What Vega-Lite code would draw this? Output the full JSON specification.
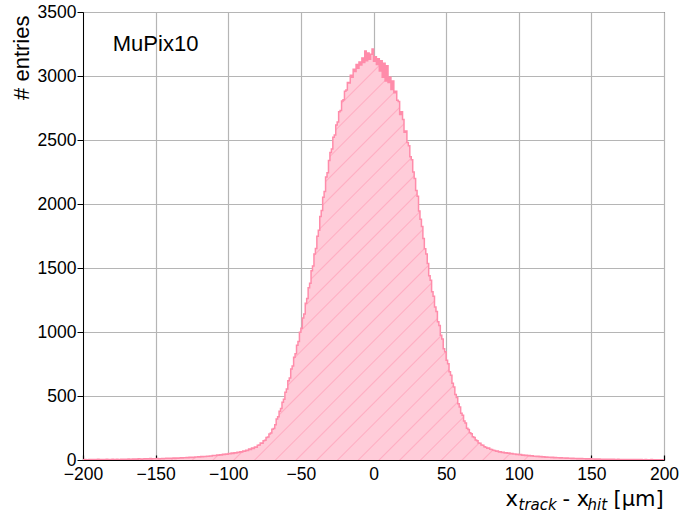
{
  "$schema": "https://vega.github.io/schema/vega-lite/v6.json",
  "width": 581,
  "height": 448,
  "autosize": "none",
  "padding": {"left": 83, "top": 12, "right": 17, "bottom": 53},
  "background": "white",
  "config": {
    "view": {"stroke": "black", "strokeWidth": 1},
    "axis": {"domainColor": "black", "tickColor": "black", "labelColor": "black", "titleColor": "black"}
  },
  "resolve": {"axis": {"x": "independent"}},
  "layer": [
    {
      "data": {"values": [
{"x":-200,"n":2},{"x":-199,"n":3},{"x":-198,"n":1},{"x":-197,"n":2},{"x":-196,"n":4},{"x":-195,"n":2},{"x":-194,"n":3},{"x":-193,"n":1},{"x":-192,"n":3},{"x":-191,"n":2},{"x":-190,"n":5},{"x":-189,"n":3},{"x":-188,"n":2},{"x":-187,"n":4},{"x":-186,"n":3},{"x":-185,"n":2},{"x":-184,"n":5},{"x":-183,"n":3},{"x":-182,"n":4},{"x":-181,"n":2},{"x":-180,"n":5},{"x":-179,"n":3},{"x":-178,"n":4},{"x":-177,"n":6},{"x":-176,"n":3},
{"x":-175,"n":4},{"x":-174,"n":6},{"x":-173,"n":5},{"x":-172,"n":3},{"x":-171,"n":6},{"x":-170,"n":5},{"x":-169,"n":7},{"x":-168,"n":4},{"x":-167,"n":6},{"x":-166,"n":8},{"x":-165,"n":5},{"x":-164,"n":7},{"x":-163,"n":6},{"x":-162,"n":9},{"x":-161,"n":7},{"x":-160,"n":6},{"x":-159,"n":8},{"x":-158,"n":10},{"x":-157,"n":7},{"x":-156,"n":9},{"x":-155,"n":8},{"x":-154,"n":11},{"x":-153,"n":8},{"x":-152,"n":10},{"x":-151,"n":9},
{"x":-150,"n":9},{"x":-149,"n":11},{"x":-148,"n":8},{"x":-147,"n":10},{"x":-146,"n":12},{"x":-145,"n":10},{"x":-144,"n":11},{"x":-143,"n":13},{"x":-142,"n":11},{"x":-141,"n":14},{"x":-140,"n":12},{"x":-139,"n":13},{"x":-138,"n":15},{"x":-137,"n":12},{"x":-136,"n":16},{"x":-135,"n":14},{"x":-134,"n":15},{"x":-133,"n":17},{"x":-132,"n":15},{"x":-131,"n":18},{"x":-130,"n":18},{"x":-129,"n":19},{"x":-128,"n":17},{"x":-127,"n":21},{"x":-126,"n":19},
{"x":-125,"n":22},{"x":-124,"n":20},{"x":-123,"n":24},{"x":-122,"n":23},{"x":-121,"n":25},{"x":-120,"n":24},{"x":-119,"n":27},{"x":-118,"n":26},{"x":-117,"n":28},{"x":-116,"n":27},{"x":-115,"n":30},{"x":-114,"n":29},{"x":-113,"n":32},{"x":-112,"n":31},{"x":-111,"n":35},
{"x":-110,"n":36},{"x":-109,"n":35},{"x":-108,"n":39},{"x":-107,"n":38},{"x":-106,"n":41},{"x":-105,"n":40},{"x":-104,"n":44},{"x":-103,"n":42},
{"x":-102,"n":47},{"x":-101,"n":44},{"x":-100,"n":50},{"x":-99,"n":49},{"x":-98,"n":55},{"x":-97,"n":51},{"x":-96,"n":57},{"x":-95,"n":54},{"x":-94,"n":60},{"x":-93,"n":58},
{"x":-92,"n":64},{"x":-91,"n":62},{"x":-90,"n":70},{"x":-89,"n":68},{"x":-88,"n":76},
{"x":-87,"n":74},{"x":-86,"n":85},{"x":-85,"n":83},{"x":-84,"n":93},{"x":-83,"n":90},{"x":-82,"n":101},
{"x":-81,"n":99},{"x":-80,"n":115},{"x":-79,"n":118},{"x":-78,"n":133},{"x":-77,"n":131},
{"x":-76,"n":150},{"x":-75,"n":155},{"x":-74,"n":176},{"x":-73,"n":180},
{"x":-72,"n":204},{"x":-71,"n":210},{"x":-70,"n":241},{"x":-69,"n":247},
{"x":-68,"n":276},{"x":-67,"n":321},{"x":-66,"n":338},{"x":-65,"n":380},
{"x":-64,"n":402},{"x":-63,"n":452},{"x":-62,"n":474},
{"x":-61,"n":530},{"x":-60,"n":555},{"x":-59,"n":619},{"x":-58,"n":641},{"x":-57,"n":710},
{"x":-56,"n":735},{"x":-55,"n":802},{"x":-54,"n":830},
{"x":-53,"n":897},{"x":-52,"n":926},{"x":-51,"n":998},
{"x":-50,"n":1030},{"x":-49,"n":1110},{"x":-48,"n":1140},
{"x":-47,"n":1225},{"x":-46,"n":1262},{"x":-45,"n":1345},
{"x":-44,"n":1380},{"x":-43,"n":1478},
{"x":-42,"n":1515},{"x":-41,"n":1610},{"x":-40,"n":1652},
{"x":-39,"n":1748},{"x":-38,"n":1795},{"x":-37,"n":1902},
{"x":-36,"n":1950},{"x":-35,"n":2052},{"x":-34,"n":2098},
{"x":-33,"n":2210},{"x":-32,"n":2245},{"x":-31,"n":2340},
{"x":-30,"n":2402},{"x":-29,"n":2430},{"x":-28,"n":2522},
{"x":-27,"n":2540},{"x":-26,"n":2618},{"x":-25,"n":2640},{"x":-24,"n":2720},
{"x":-23,"n":2730},{"x":-22,"n":2805},{"x":-21,"n":2815},
{"x":-20,"n":2880},{"x":-19,"n":2890},{"x":-18,"n":2950},{"x":-17,"n":2945},
{"x":-16,"n":3005},{"x":-15,"n":2990},{"x":-14,"n":3052},{"x":-13,"n":3035},
{"x":-12,"n":3090},{"x":-11,"n":3060},{"x":-10,"n":3110},{"x":-9,"n":3085},{"x":-8,"n":3140},
{"x":-7,"n":3105},{"x":-6,"n":3195},{"x":-5,"n":3120},{"x":-4,"n":3180},{"x":-3,"n":3130},
{"x":-2,"n":3170},{"x":-1,"n":3210},{"x":0,"n":3115},{"x":1,"n":3150},{"x":2,"n":3090},{"x":3,"n":3135},{"x":4,"n":3040},{"x":5,"n":3120},{"x":6,"n":2990},{"x":7,"n":3100},{"x":8,"n":2960},{"x":9,"n":3080},
{"x":10,"n":2950},{"x":11,"n":2990},{"x":12,"n":2895},{"x":13,"n":2960},{"x":14,"n":2870},{"x":15,"n":2880},{"x":16,"n":2810},{"x":17,"n":2800},{"x":18,"n":2700},{"x":19,"n":2720},
{"x":20,"n":2660},{"x":21,"n":2560},{"x":22,"n":2570},{"x":23,"n":2480},{"x":24,"n":2455},{"x":25,"n":2370},{"x":26,"n":2345},{"x":27,"n":2250},{"x":28,"n":2200},{"x":29,"n":2105},
{"x":30,"n":2060},{"x":31,"n":1945},{"x":32,"n":1880},{"x":33,"n":1825},{"x":34,"n":1730},{"x":35,"n":1650},{"x":36,"n":1610},{"x":37,"n":1535},{"x":38,"n":1440},{"x":39,"n":1405},
{"x":40,"n":1315},{"x":41,"n":1280},{"x":42,"n":1195},{"x":43,"n":1160},{"x":44,"n":1080},{"x":45,"n":1050},{"x":46,"n":975},{"x":47,"n":945},{"x":48,"n":870},{"x":49,"n":845},
{"x":50,"n":780},{"x":51,"n":752},{"x":52,"n":690},{"x":53,"n":662},{"x":54,"n":600},{"x":55,"n":570},{"x":56,"n":512},{"x":57,"n":488},{"x":58,"n":440},{"x":59,"n":415},
{"x":60,"n":366},{"x":61,"n":350},{"x":62,"n":305},{"x":63,"n":290},{"x":64,"n":248},{"x":65,"n":238},{"x":66,"n":212},{"x":67,"n":205},{"x":68,"n":182},{"x":69,"n":176},
{"x":70,"n":156},{"x":71,"n":150},{"x":72,"n":133},{"x":73,"n":131},{"x":74,"n":118},{"x":75,"n":116},{"x":76,"n":103},{"x":77,"n":100},{"x":78,"n":92},{"x":79,"n":94},
{"x":80,"n":84},{"x":81,"n":83},{"x":82,"n":76},{"x":83,"n":75},{"x":84,"n":68},{"x":85,"n":70},{"x":86,"n":63},{"x":87,"n":64},{"x":88,"n":58},{"x":89,"n":60},
{"x":90,"n":55},{"x":91,"n":57},{"x":92,"n":52},{"x":93,"n":54},{"x":94,"n":48},{"x":95,"n":50},{"x":96,"n":46},{"x":97,"n":47},{"x":98,"n":43},{"x":99,"n":45},
{"x":100,"n":41},{"x":101,"n":42},{"x":102,"n":38},{"x":103,"n":40},{"x":104,"n":36},{"x":105,"n":37},{"x":106,"n":33},{"x":107,"n":35},{"x":108,"n":31},{"x":109,"n":33},
{"x":110,"n":29},{"x":111,"n":30},{"x":112,"n":27},{"x":113,"n":29},{"x":114,"n":26},{"x":115,"n":27},{"x":116,"n":24},{"x":117,"n":26},{"x":118,"n":22},{"x":119,"n":24},
{"x":120,"n":21},{"x":121,"n":22},{"x":122,"n":19},{"x":123,"n":21},{"x":124,"n":18},{"x":125,"n":19},
{"x":126,"n":17},{"x":127,"n":18},{"x":128,"n":16},{"x":129,"n":17},{"x":130,"n":15},{"x":131,"n":16},{"x":132,"n":14},{"x":133,"n":15},{"x":134,"n":13},{"x":135,"n":14},{"x":136,"n":12},{"x":137,"n":13},{"x":138,"n":11},{"x":139,"n":12},{"x":140,"n":10},{"x":141,"n":11},{"x":142,"n":9},{"x":143,"n":11},{"x":144,"n":9},{"x":145,"n":10},{"x":146,"n":8},{"x":147,"n":9},{"x":148,"n":8},{"x":149,"n":9},{"x":150,"n":7},
{"x":151,"n":8},{"x":152,"n":6},{"x":153,"n":7},{"x":154,"n":5},{"x":155,"n":7},{"x":156,"n":6},{"x":157,"n":5},{"x":158,"n":6},{"x":159,"n":4},{"x":160,"n":6},{"x":161,"n":5},{"x":162,"n":4},{"x":163,"n":5},{"x":164,"n":3},{"x":165,"n":5},{"x":166,"n":4},{"x":167,"n":3},{"x":168,"n":5},{"x":169,"n":4},{"x":170,"n":3},{"x":171,"n":4},{"x":172,"n":2},{"x":173,"n":4},{"x":174,"n":3},{"x":175,"n":3},
{"x":176,"n":2},{"x":177,"n":4},{"x":178,"n":3},{"x":179,"n":2},{"x":180,"n":3},{"x":181,"n":1},{"x":182,"n":3},{"x":183,"n":2},{"x":184,"n":3},{"x":185,"n":2},{"x":186,"n":1},{"x":187,"n":3},{"x":188,"n":2},{"x":189,"n":2},{"x":190,"n":1},{"x":191,"n":3},{"x":192,"n":2},{"x":193,"n":1},{"x":194,"n":2},{"x":195,"n":1},{"x":196,"n":2},{"x":197,"n":1},{"x":198,"n":2},{"x":199,"n":1},{"x":200,"n":1}
      ]},
      "mark": {"type": "area", "interpolate": "step-after", "opacity": 1, "fillOpacity": 1, "clip": true,
        "fill": {"gradient": "linear", "x1": 0, "y1": 0, "x2": 1, "y2": 0.707, "stops": [
          {"offset": 0.0000, "color": "#ffccd9"}, {"offset": 0.0017, "color": "#ffadc2"}, {"offset": 0.0034, "color": "#ffccd9"},
          {"offset": 0.0238, "color": "#ffccd9"}, {"offset": 0.0255, "color": "#ffadc2"}, {"offset": 0.0272, "color": "#ffccd9"},
          {"offset": 0.0476, "color": "#ffccd9"}, {"offset": 0.0493, "color": "#ffadc2"}, {"offset": 0.0510, "color": "#ffccd9"},
          {"offset": 0.0714, "color": "#ffccd9"}, {"offset": 0.0731, "color": "#ffadc2"}, {"offset": 0.0748, "color": "#ffccd9"},
          {"offset": 0.0952, "color": "#ffccd9"}, {"offset": 0.0969, "color": "#ffadc2"}, {"offset": 0.0986, "color": "#ffccd9"},
          {"offset": 0.1190, "color": "#ffccd9"}, {"offset": 0.1207, "color": "#ffadc2"}, {"offset": 0.1224, "color": "#ffccd9"},
          {"offset": 0.1429, "color": "#ffccd9"}, {"offset": 0.1446, "color": "#ffadc2"}, {"offset": 0.1463, "color": "#ffccd9"},
          {"offset": 0.1667, "color": "#ffccd9"}, {"offset": 0.1684, "color": "#ffadc2"}, {"offset": 0.1701, "color": "#ffccd9"},
          {"offset": 0.1905, "color": "#ffccd9"}, {"offset": 0.1922, "color": "#ffadc2"}, {"offset": 0.1939, "color": "#ffccd9"},
          {"offset": 0.2143, "color": "#ffccd9"}, {"offset": 0.2160, "color": "#ffadc2"}, {"offset": 0.2177, "color": "#ffccd9"},
          {"offset": 0.2381, "color": "#ffccd9"}, {"offset": 0.2398, "color": "#ffadc2"}, {"offset": 0.2415, "color": "#ffccd9"},
          {"offset": 0.2619, "color": "#ffccd9"}, {"offset": 0.2636, "color": "#ffadc2"}, {"offset": 0.2653, "color": "#ffccd9"},
          {"offset": 0.2857, "color": "#ffccd9"}, {"offset": 0.2874, "color": "#ffadc2"}, {"offset": 0.2891, "color": "#ffccd9"},
          {"offset": 0.3095, "color": "#ffccd9"}, {"offset": 0.3112, "color": "#ffadc2"}, {"offset": 0.3129, "color": "#ffccd9"},
          {"offset": 0.3333, "color": "#ffccd9"}, {"offset": 0.3350, "color": "#ffadc2"}, {"offset": 0.3367, "color": "#ffccd9"},
          {"offset": 0.3571, "color": "#ffccd9"}, {"offset": 0.3588, "color": "#ffadc2"}, {"offset": 0.3605, "color": "#ffccd9"},
          {"offset": 0.3810, "color": "#ffccd9"}, {"offset": 0.3827, "color": "#ffadc2"}, {"offset": 0.3844, "color": "#ffccd9"},
          {"offset": 0.4048, "color": "#ffccd9"}, {"offset": 0.4065, "color": "#ffadc2"}, {"offset": 0.4082, "color": "#ffccd9"},
          {"offset": 0.4286, "color": "#ffccd9"}, {"offset": 0.4303, "color": "#ffadc2"}, {"offset": 0.4320, "color": "#ffccd9"},
          {"offset": 0.4524, "color": "#ffccd9"}, {"offset": 0.4541, "color": "#ffadc2"}, {"offset": 0.4558, "color": "#ffccd9"},
          {"offset": 0.4762, "color": "#ffccd9"}, {"offset": 0.4779, "color": "#ffadc2"}, {"offset": 0.4796, "color": "#ffccd9"},
          {"offset": 0.5000, "color": "#ffccd9"}, {"offset": 0.5017, "color": "#ffadc2"}, {"offset": 0.5034, "color": "#ffccd9"},
          {"offset": 0.5238, "color": "#ffccd9"}, {"offset": 0.5255, "color": "#ffadc2"}, {"offset": 0.5272, "color": "#ffccd9"},
          {"offset": 0.5476, "color": "#ffccd9"}, {"offset": 0.5493, "color": "#ffadc2"}, {"offset": 0.5510, "color": "#ffccd9"},
          {"offset": 0.5714, "color": "#ffccd9"}, {"offset": 0.5731, "color": "#ffadc2"}, {"offset": 0.5748, "color": "#ffccd9"},
          {"offset": 0.5952, "color": "#ffccd9"}, {"offset": 0.5969, "color": "#ffadc2"}, {"offset": 0.5986, "color": "#ffccd9"},
          {"offset": 0.6190, "color": "#ffccd9"}, {"offset": 0.6207, "color": "#ffadc2"}, {"offset": 0.6224, "color": "#ffccd9"},
          {"offset": 0.6429, "color": "#ffccd9"}, {"offset": 0.6446, "color": "#ffadc2"}, {"offset": 0.6463, "color": "#ffccd9"},
          {"offset": 0.6667, "color": "#ffccd9"}, {"offset": 0.6684, "color": "#ffadc2"}, {"offset": 0.6701, "color": "#ffccd9"},
          {"offset": 0.6905, "color": "#ffccd9"}, {"offset": 0.6922, "color": "#ffadc2"}, {"offset": 0.6939, "color": "#ffccd9"},
          {"offset": 0.7143, "color": "#ffccd9"}, {"offset": 0.7160, "color": "#ffadc2"}, {"offset": 0.7177, "color": "#ffccd9"},
          {"offset": 0.7381, "color": "#ffccd9"}, {"offset": 0.7398, "color": "#ffadc2"}, {"offset": 0.7415, "color": "#ffccd9"},
          {"offset": 0.7619, "color": "#ffccd9"}, {"offset": 0.7636, "color": "#ffadc2"}, {"offset": 0.7653, "color": "#ffccd9"},
          {"offset": 0.7857, "color": "#ffccd9"}, {"offset": 0.7874, "color": "#ffadc2"}, {"offset": 0.7891, "color": "#ffccd9"},
          {"offset": 0.8095, "color": "#ffccd9"}, {"offset": 0.8112, "color": "#ffadc2"}, {"offset": 0.8129, "color": "#ffccd9"},
          {"offset": 0.8333, "color": "#ffccd9"}, {"offset": 0.8350, "color": "#ffadc2"}, {"offset": 0.8367, "color": "#ffccd9"},
          {"offset": 0.8571, "color": "#ffccd9"}, {"offset": 0.8588, "color": "#ffadc2"}, {"offset": 0.8605, "color": "#ffccd9"},
          {"offset": 0.8810, "color": "#ffccd9"}, {"offset": 0.8827, "color": "#ffadc2"}, {"offset": 0.8844, "color": "#ffccd9"},
          {"offset": 0.9048, "color": "#ffccd9"}, {"offset": 0.9065, "color": "#ffadc2"}, {"offset": 0.9082, "color": "#ffccd9"},
          {"offset": 0.9286, "color": "#ffccd9"}, {"offset": 0.9303, "color": "#ffadc2"}, {"offset": 0.9320, "color": "#ffccd9"},
          {"offset": 0.9524, "color": "#ffccd9"}, {"offset": 0.9541, "color": "#ffadc2"}, {"offset": 0.9558, "color": "#ffccd9"},
          {"offset": 0.9762, "color": "#ffccd9"}, {"offset": 0.9779, "color": "#ffadc2"}, {"offset": 0.9796, "color": "#ffccd9"},
          {"offset": 1.0000, "color": "#ffccd9"}
        ]},
        "line": {"color": "#ff8caa", "strokeWidth": 1.5}},
      "encoding": {
        "x": {"field": "x", "type": "quantitative", "scale": {"domain": [-200, 200], "nice": false, "zero": false},
          "axis": {"orient": "bottom", "values": [-200, -150, -100, -50, 0, 50, 100, 150, 200], "labelFlush": false, "grid": true, "gridColor": "#b5b5b5", "gridWidth": 1.2, "tickSize": -5, "tickWidth": 1.2, "labelPadding": 10, "labelFont": "Liberation Sans", "labelFontSize": 17.5,
            "title": "x", "titleX": 422, "titleY": 45, "titleAlign": "left", "titleBaseline": "alphabetic", "titleFont": "DejaVu Sans", "titleFontSize": 21, "titleFontWeight": "normal"}},
        "y": {"field": "n", "type": "quantitative", "scale": {"domain": [0, 3500], "nice": false},
          "axis": {"values": [0, 500, 1000, 1500, 2000, 2500, 3000, 3500], "format": "d", "labelFlush": false, "grid": true, "gridColor": "#b5b5b5", "gridWidth": 1.2, "tickSize": 6, "labelPadding": 1, "labelFont": "Liberation Sans", "labelFontSize": 17.5,
            "title": "# entries", "titleX": -55, "titleY": 3, "titleAngle": -90, "titleAlign": "right", "titleBaseline": "alphabetic", "titleFont": "Liberation Sans", "titleFontSize": 22, "titleFontWeight": "normal"}}
      }
    },
    {
      "data": {"values": [{"label": "MuPix10"}]},
      "mark": {"type": "text", "align": "left", "baseline": "alphabetic", "font": "Liberation Sans", "fontSize": 22, "color": "black"},
      "encoding": {
        "x": {"datum": -179.5, "type": "quantitative", "axis": null},
        "y": {"datum": 3195, "type": "quantitative"},
        "text": {"field": "label"}
      }
    },
    {
      "data": {"values": [{"x": 0}]},
      "mark": {"type": "rule", "opacity": 0},
      "encoding": {"x": {"field": "x", "type": "quantitative", "axis": {"orient": "bottom", "grid": false, "domain": false, "ticks": false, "labels": false,
        "title": "track", "titleX": 435, "titleY": 49, "titleAlign": "left", "titleBaseline": "alphabetic", "titleFont": "DejaVu Sans", "titleFontStyle": "italic", "titleFontSize": 15, "titleFontWeight": "normal"}}}
    },
    {
      "data": {"values": [{"x": 0}]},
      "mark": {"type": "rule", "opacity": 0},
      "encoding": {"x": {"field": "x", "type": "quantitative", "axis": {"orient": "bottom", "grid": false, "domain": false, "ticks": false, "labels": false,
        "title": "- x", "titleX": 479, "titleY": 45, "titleAlign": "left", "titleBaseline": "alphabetic", "titleFont": "DejaVu Sans", "titleFontSize": 21, "titleFontWeight": "normal"}}}
    },
    {
      "data": {"values": [{"x": 0}]},
      "mark": {"type": "rule", "opacity": 0},
      "encoding": {"x": {"field": "x", "type": "quantitative", "axis": {"orient": "bottom", "grid": false, "domain": false, "ticks": false, "labels": false,
        "title": "hit", "titleX": 504, "titleY": 49, "titleAlign": "left", "titleBaseline": "alphabetic", "titleFont": "DejaVu Sans", "titleFontStyle": "italic", "titleFontSize": 15, "titleFontWeight": "normal"}}}
    },
    {
      "data": {"values": [{"x": 0}]},
      "mark": {"type": "rule", "opacity": 0},
      "encoding": {"x": {"field": "x", "type": "quantitative", "axis": {"orient": "bottom", "grid": false, "domain": false, "ticks": false, "labels": false,
        "title": "[μm]", "titleX": 530, "titleY": 45, "titleAlign": "left", "titleBaseline": "alphabetic", "titleFont": "DejaVu Sans", "titleFontSize": 21, "titleFontWeight": "normal"}}}
    }
  ]
}
